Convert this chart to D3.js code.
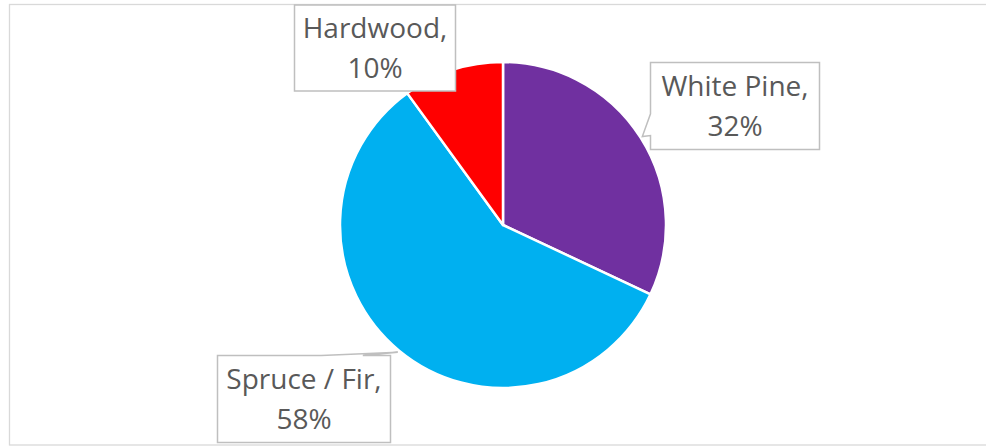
<!DOCTYPE html>
<html>
<head>
<meta charset="utf-8">
<script src="https://cdn.jsdelivr.net/npm/d3@7"></script>
<style>
  html, body { margin: 0; padding: 0; background: #fff; }
  svg { display: block; }
</style>
</head>
<body>
<div id="chart"></div>
<script>
// chart data
const species = ["White Pine", "Spruce / Fir", "Hardwood"];
const shares = [32, 58, 10];
const sliceColors = ["#7030A0", "#00B0F0", "#FF0000"];

// label boxes (left, top, width, height) in the order of species
const labelBoxes = [
  [650.5, 62.5, 169, 87],
  [217.5, 355.5, 173, 87],
  [294.5, 5, 161, 86],
];

const width = 986;
const height = 446;
const cx = 503;
const cy = 225;
const radius = 163;

const svg = d3
  .select("#chart")
  .append("svg")
  .attr("width", width)
  .attr("height", height);

// chart area border (only top / left / bottom visible in the frame)
svg
  .append("rect")
  .attr("x", 9.5)
  .attr("y", 4.5)
  .attr("width", width + 20)
  .attr("height", 440.5)
  .attr("fill", "none")
  .attr("stroke", "#D9D9D9")
  .attr("stroke-width", 1.3);

const pie = d3
  .pie()
  .sort(null)
  .value((d) => d);

const arcs = pie(shares);

const arc = d3.arc().innerRadius(0).outerRadius(radius);

const g = svg.append("g").attr("transform", `translate(${cx},${cy})`);

g.selectAll("path")
  .data(arcs)
  .join("path")
  .attr("d", arc)
  .attr("fill", (d, i) => sliceColors[i])
  .attr("stroke", "#fff")
  .attr("stroke-width", 2.5)
  .attr("stroke-linejoin", "round");

// callout shape: box with a wedge pointing at the slice when the tip is outside
function calloutPath(box, tip) {
  const [x, y, w, h] = box;
  const [tx, ty] = tip;
  const inside = tx >= x && tx <= x + w && ty >= y && ty <= y + h;
  if (inside) {
    return `M${x},${y}H${x + w}V${y + h}H${x}Z`;
  }
  if (tx < x) {
    // pointer on the left edge
    const end = Math.min(ty, y + h - 0.16 * h);
    const start = end - 0.25 * h;
    return `M${x},${y}H${x + w}V${y + h}H${x}V${end}L${tx},${ty}L${x},${start}Z`;
  }
  if (ty < y) {
    // pointer on the top edge
    const end = Math.min(tx, x + w - 0.16 * w);
    const start = end - 0.24 * w;
    return `M${x},${y}H${start}L${tx},${ty}L${end},${y}H${x + w}V${y + h}H${x}Z`;
  }
  return `M${x},${y}H${x + w}V${y + h}H${x}Z`;
}

const tipArc = d3.arc().innerRadius(radius + 2).outerRadius(radius + 2);

const labels = svg
  .selectAll("g.label")
  .data(arcs)
  .join("g")
  .attr("class", "label");

labels
  .append("path")
  .attr("d", (d, i) => {
    const c = tipArc.centroid(d);
    return calloutPath(labelBoxes[i], [cx + c[0], cy + c[1]]);
  })
  .attr("fill", "#fff")
  .attr("stroke", "#BFBFBF")
  .attr("stroke-width", 1.5);

const text = labels
  .append("text")
  .attr("text-anchor", "middle")
  .attr("font-family", "'Open Sans', 'Noto Sans', sans-serif")
  .attr("font-size", "28px")
  .attr("fill", "#595959");

text
  .append("tspan")
  .attr("x", (d, i) => labelBoxes[i][0] + labelBoxes[i][2] / 2)
  .attr("y", (d, i) => labelBoxes[i][1] + labelBoxes[i][3] / 2 - 10)
  .text((d, i) => species[i] + ",");

text
  .append("tspan")
  .attr("x", (d, i) => labelBoxes[i][0] + labelBoxes[i][2] / 2)
  .attr("y", (d, i) => labelBoxes[i][1] + labelBoxes[i][3] / 2 + 30)
  .text((d, i) => shares[i] + "%");
</script>
</body>
</html>
